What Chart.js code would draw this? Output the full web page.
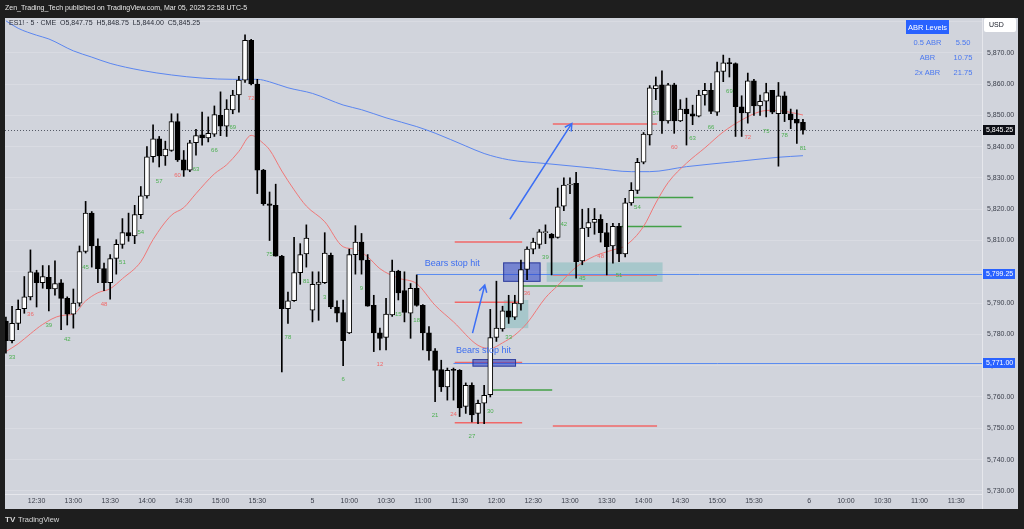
<!DOCTYPE html>
<html>
<head>
<meta charset="utf-8">
<script src="https://cdn.jsdelivr.net/npm/chart.js@4.4.1/dist/chart.umd.min.js"></script>
<style>
html, body { margin: 0; padding: 0; background: #1e1e1e; overflow: hidden; }
canvas { display: block; }
</style>
</head>
<body>
<canvas id="chart" width="1024" height="529"></canvas>
<script>
// ES1! 5 min, bar index 0 = Mar 4 12:30, index 45 = Mar 5 09:30
const firstBar = -5;

const opens = [
    5784.25, 5778, 5783.5, 5788.25, 5792,
    5799.75, 5796.5, 5798.25, 5794.5, 5796.5, 5791.5, 5786.5, 5790, 5806.5, 5818.75,
    5808.25, 5801, 5796.5, 5804.25, 5808.75, 5812.5, 5811.5, 5818.25, 5824.25, 5836.75,
    5842.5, 5837, 5838.75, 5848, 5835.75, 5832.5, 5841.25, 5843.75, 5842.75, 5844,
    5850, 5846.5, 5851.75, 5856.5, 5861.25, 5874, 5860, 5832.5, 5821.75, 5821.25,
    5805, 5788.25, 5790.75, 5799.75, 5805.75, 5787.75, 5796, 5796.5, 5805.25, 5788.75,
    5787, 5780.5, 5805.5, 5809.5, 5803.75, 5789.25, 5780.5, 5779, 5786.25, 5800.25,
    5794, 5786.75, 5794.75, 5789.25, 5780.5, 5774.75, 5768.75, 5763.25, 5768.75, 5768.5,
    5757, 5763.75, 5754.75, 5758, 5760.75, 5779, 5781.75, 5787.5, 5785.5, 5789.75,
    5800.75, 5807.25, 5808.75, 5812.5, 5812, 5811, 5821, 5827.75, 5828.25, 5803.5,
    5814, 5815.75, 5816.75, 5812.5, 5808.25, 5814.5, 5805.75, 5822, 5826, 5835,
    5843.75, 5858.5, 5859.75, 5848.25, 5859.75, 5848.25, 5852, 5850.5, 5849.75, 5856.5,
    5858, 5851, 5864, 5866.75, 5866.5, 5852.75, 5850.75, 5861, 5853, 5854.5,
    5858, 5850.5, 5856.25, 5850.5, 5848.75, 5847.75
];
const highs = [
    5785.5, 5789, 5791, 5798.5, 5807,
    5800.5, 5802, 5802, 5803.5, 5797.5, 5792, 5794.5, 5808.25, 5822.5, 5819.25,
    5810.5, 5802.75, 5805.5, 5810.25, 5817, 5818.75, 5821.25, 5827.25, 5840, 5847,
    5843.25, 5841.75, 5850.5, 5850.5, 5838.75, 5842, 5845.5, 5851, 5849.5, 5853,
    5857.5, 5855, 5858, 5862.5, 5875.75, 5874.25, 5861.5, 5832.75, 5825.5, 5828,
    5805.25, 5793.5, 5811, 5809, 5815, 5800, 5800, 5812.5, 5806, 5790.75,
    5791, 5807.25, 5814.75, 5812.25, 5805.5, 5792.5, 5782, 5791.5, 5803.75, 5800.5,
    5800, 5796.25, 5799, 5789.5, 5782.5, 5775.5, 5771.75, 5769.25, 5769.25, 5768.75,
    5764.5, 5764.5, 5759, 5763.75, 5788, 5797, 5789, 5792.5, 5792.5, 5803.75,
    5808, 5810.75, 5813.5, 5815, 5812.25, 5826.75, 5830, 5830, 5831.75, 5820,
    5820.25, 5820.25, 5818.25, 5815.5, 5815.5, 5815.5, 5823.5, 5828.5, 5836.25, 5844.5,
    5859.5, 5862.25, 5864.25, 5860.25, 5860.25, 5855, 5855.5, 5853.25, 5858, 5860.25,
    5860.25, 5867, 5869.25, 5868.25, 5866.75, 5856.25, 5863.5, 5861.5, 5856.5, 5860.25,
    5858, 5860.5, 5857.5, 5852, 5851.75, 5848.75
];
const lows = [
    5774, 5777.25, 5781.5, 5786.75, 5791,
    5788.75, 5794.75, 5787.5, 5792.5, 5781.5, 5783, 5782, 5789, 5806, 5801.5,
    5796.5, 5794, 5791.25, 5799.25, 5807.5, 5809.75, 5809, 5817, 5823.5, 5835,
    5833.5, 5834, 5838.5, 5835.25, 5830.5, 5832, 5837.25, 5840.5, 5841.5, 5843.25,
    5843.5, 5843.25, 5850.5, 5851, 5860.5, 5859.75, 5825, 5821.25, 5810, 5805,
    5768, 5783.5, 5790.5, 5796, 5801.5, 5784, 5784.5, 5796.25, 5788.25, 5784,
    5770, 5780.25, 5799.25, 5799.25, 5789, 5774.5, 5775, 5775, 5785.75, 5791,
    5784, 5778.75, 5789, 5775, 5771.75, 5758.5, 5761.75, 5759, 5759, 5753.75,
    5754.75, 5752, 5751.5, 5751.5, 5760, 5777.75, 5781, 5783.5, 5784.75, 5787.75,
    5797.5, 5805.75, 5807.5, 5809, 5799, 5810.75, 5819.5, 5825, 5798, 5802.25,
    5811.25, 5812, 5809.5, 5799, 5802.75, 5803.25, 5804.75, 5821.25, 5825, 5834.5,
    5840.5, 5855, 5844.25, 5847.5, 5844.25, 5848, 5840.5, 5847, 5849.5, 5853.25,
    5850.5, 5850, 5860.75, 5862.25, 5843.25, 5843.25, 5847.5, 5850, 5850, 5849.5,
    5850.5, 5833.75, 5848, 5845.75, 5841, 5844
];
const closes = [
    5778, 5783.5, 5788, 5792, 5800,
    5796.5, 5798.5, 5794.5, 5796.25, 5791.5, 5786.5, 5790, 5806.5, 5818.75, 5808.25,
    5801, 5796.5, 5804.25, 5808.75, 5812.5, 5811.5, 5818.25, 5824.25, 5836.75, 5842.5,
    5837, 5839.25, 5848, 5835.75, 5832.5, 5841.25, 5843.5, 5842.75, 5844.25, 5850.25,
    5846.5, 5852, 5856.5, 5861.25, 5874, 5860, 5832.5, 5821.75, 5821.25, 5805,
    5788.25, 5790.75, 5799.75, 5805.5, 5810.75, 5796, 5796.75, 5806, 5788.75, 5786.75,
    5778, 5805.5, 5809.5, 5803.75, 5789, 5780.5, 5778.75, 5786.5, 5800.25, 5793.25,
    5787, 5794.75, 5789.25, 5780.5, 5774.75, 5768.5, 5763.25, 5768.5, 5768.5, 5756.5,
    5763.75, 5754.25, 5758, 5760.5, 5779, 5782, 5787.5, 5785.5, 5790, 5800.75,
    5807.25, 5809.5, 5812.75, 5812.75, 5810.75, 5820.75, 5827.75, 5828, 5803.25, 5814,
    5815.75, 5816.75, 5812.5, 5808, 5814.5, 5805.75, 5822, 5826, 5835, 5844,
    5858.75, 5859.5, 5848.25, 5859.75, 5848.25, 5852, 5850.5, 5849.75, 5856.5, 5858,
    5851.25, 5864, 5866.75, 5866.5, 5852.75, 5850.75, 5861, 5853, 5854.5, 5857.25,
    5851, 5856.25, 5850.5, 5848.5, 5847.5, 5845.25
];

// session first bars (bar count 1)
const sessionStarts = [-36, 45];

// fast EMA (red) and slow MA (blue), read at these bars
const emaBars = [-5, -3, -1, 1, 4, 6, 8, 10, 12, 14, 17, 19, 22, 24, 26, 29, 31, 33, 35, 37, 38, 40, 42, 44,
    47, 50, 52, 54, 56, 59, 62, 65, 68, 72, 74, 76, 78, 80, 83, 85, 88, 91, 94, 96, 99, 101, 103, 106,
    109, 112, 115, 118, 120, 122, 125];
const emaVals = [5774.5, 5777, 5780.2, 5783.2, 5786, 5786.5, 5790.7, 5793.3, 5794.6, 5797.8, 5803.2, 5810.3,
    5818.1, 5820.5, 5825, 5831.3, 5834.2, 5838.5, 5843.6, 5841, 5839, 5832.2, 5826.2, 5821,
    5816, 5808, 5807.2, 5804.8, 5801, 5798, 5796.2, 5789.3, 5784, 5776.5, 5775.5, 5777.3, 5779.8, 5783.6,
    5791.7, 5795.6, 5801.5, 5805, 5807, 5808.3, 5814.5, 5822, 5828.5, 5834.7, 5839.6, 5844.7, 5848.5,
    5851.2, 5851.6, 5851.3, 5850.1];
const smaBars = [-5, -3, 0, 2, 6, 9, 12, 17, 22, 27, 32, 36, 38, 41, 45, 50, 53, 57, 62, 65, 70, 73, 77,
    83, 91, 97, 100, 106, 114, 121, 125];
const smaVals = [5880.2, 5877.8, 5875.6, 5874.4, 5870.6, 5868.6, 5866.6, 5864.4, 5862.9, 5861.9, 5861.5,
    5861.5, 5860.7, 5858.8, 5857, 5853.3, 5851.8, 5849.2, 5846.4, 5844.3, 5840.2, 5837.8, 5835.8,
    5834.6, 5833.1, 5832, 5832, 5833.6, 5835.2, 5836.6, 5837.1];

// time axis
const tickBars = [0, 6, 12, 18, 24, 30, 36, 45, 51, 57, 63, 69, 75, 81, 87, 93, 99, 105, 111, 117, 126, 132, 138, 144, 150];
const tickText = ['12:30', '13:00', '13:30', '14:00', '14:30', '15:00', '15:30', '5', '10:00', '10:30', '11:00', '11:30',
    '12:00', '12:30', '13:00', '13:30', '14:00', '14:30', '15:00', '15:30', '6', '10:00', '10:30', '11:00', '11:30'];
const priceTicks = [5730, 5740, 5750, 5760, 5770, 5780, 5790, 5800, 5810, 5820, 5830, 5840, 5850, 5860, 5870, 5880];

// drawings: [fromBar, toBar, price]
const redLevels = [[68.2, 79.2, 5809.5], [68.2, 79.2, 5790.25], [68.2, 79.2, 5771], [68.2, 79.2, 5751.75],
    [84.2, 101.2, 5847.25], [84.2, 101.2, 5799], [84.2, 101.2, 5750.75]];
const greenLevels = [[74.4, 84.1, 5762.25], [79.3, 89.1, 5795.5], [95.4, 105.2, 5814.5], [97.3, 107.1, 5823.75]];
const stopLines = [[62, 5799.25], [68, 5771.0]];
// [fromBar, toBar, low, high]
const stopBoxes = [[71.1, 78.2, 5769.7, 5772.1], [76.1, 82.2, 5796.8, 5803]];
const tealBoxes = [[76.2, 80.2, 5782, 5791], [83.2, 102.1, 5796.8, 5803]];
// arrows [fromBar, fromPrice, toBar, toPrice]
const arrows = [[71.1, 5780.4, 73.1, 5795.8], [77.2, 5816.8, 87.3, 5847.4]];
const notes = [[63.3, 5802.5, 'Bears stop hit'], [68.4, 5775, 'Bears stop hit']];

const abrNames = ['0.5 ABR', 'ABR', '2x ABR'];
const abrValues = ['5.50', '10.75', '21.75'];
const lastPrice = 5845.25;

const FONT = "'Liberation Sans', Arial, sans-serif";

function fmt(v) {
    return v.toLocaleString('en-US', { minimumFractionDigits: 2, maximumFractionDigits: 2 });
}

const wickData = lows.map((l, k) => ({ x: firstBar + k, y: [l, highs[k]] }));
const bodyData = opens.map((o, k) => ({ x: firstBar + k, y: [o, closes[k]] }));
const bodyColors = opens.map((o, k) => closes[k] >= o ? '#ffffff' : '#000000');

const overlay = {
    id: 'overlay',
    beforeDraw(chart) {
        const { ctx, width, height } = chart;
        ctx.save();
        ctx.fillStyle = '#1e1e1e';
        ctx.fillRect(0, 0, width, height);
        ctx.fillStyle = '#d1d4dc';
        ctx.fillRect(5, 18, 1013, 491);
        ctx.restore();
    },
    beforeDatasetsDraw(chart) {
        const { ctx, chartArea: a, scales: { x, y } } = chart;
        ctx.save();
        ctx.beginPath();
        ctx.rect(a.left, a.top, a.right - a.left, a.bottom - a.top);
        ctx.clip();

        tealBoxes.forEach(b => {
            const x1 = x.getPixelForValue(b[0]), x2 = x.getPixelForValue(b[1]);
            const y1 = y.getPixelForValue(b[3]), y2 = y.getPixelForValue(b[2]);
            ctx.fillStyle = 'rgba(0,150,136,0.2)';
            ctx.fillRect(x1, y1, x2 - x1, y2 - y1);
        });

        ctx.lineWidth = 1.5;
        ctx.strokeStyle = '#f06868';
        redLevels.forEach(l => {
            const yy = y.getPixelForValue(l[2]);
            ctx.beginPath();
            ctx.moveTo(x.getPixelForValue(l[0]), yy);
            ctx.lineTo(x.getPixelForValue(l[1]), yy);
            ctx.stroke();
        });
        ctx.strokeStyle = '#43a047';
        greenLevels.forEach(l => {
            const yy = y.getPixelForValue(l[2]);
            ctx.beginPath();
            ctx.moveTo(x.getPixelForValue(l[0]), yy);
            ctx.lineTo(x.getPixelForValue(l[1]), yy);
            ctx.stroke();
        });

        ctx.lineWidth = 1;
        ctx.strokeStyle = '#5b8cf0';
        stopLines.forEach(l => {
            const yy = Math.round(y.getPixelForValue(l[1])) + 0.5;
            ctx.beginPath();
            ctx.moveTo(x.getPixelForValue(l[0]), yy);
            ctx.lineTo(a.right, yy);
            ctx.stroke();
        });

        stopBoxes.forEach(b => {
            const x1 = x.getPixelForValue(b[0]), x2 = x.getPixelForValue(b[1]);
            const y1 = y.getPixelForValue(b[3]), y2 = y.getPixelForValue(b[2]);
            ctx.fillStyle = 'rgba(41,65,200,0.55)';
            ctx.fillRect(x1, y1, x2 - x1, y2 - y1);
            ctx.strokeStyle = 'rgba(40,53,147,0.9)';
            ctx.strokeRect(x1 + 0.5, y1 + 0.5, x2 - x1 - 1, y2 - y1 - 1);
        });

        // last price dotted line
        const ly = Math.round(y.getPixelForValue(lastPrice)) + 0.5;
        ctx.strokeStyle = '#555a66';
        ctx.setLineDash([1, 2]);
        ctx.beginPath();
        ctx.moveTo(a.left, ly);
        ctx.lineTo(a.right, ly);
        ctx.stroke();
        ctx.restore();
    },
    afterDatasetsDraw(chart) {
        const { ctx, chartArea: a, scales: { x, y } } = chart;
        ctx.save();
        ctx.beginPath();
        ctx.rect(a.left, a.top, a.right - a.left, a.bottom - a.top);
        ctx.clip();

        // bar counts every third bar
        ctx.font = '6px ' + FONT;
        ctx.textAlign = 'center';
        ctx.textBaseline = 'middle';
        lows.forEach((l, k) => {
            const bar = firstBar + k;
            const start = bar >= sessionStarts[1] ? sessionStarts[1] : sessionStarts[0];
            const n = bar - start + 1;
            if (n % 3 !== 0) return;
            ctx.fillStyle = n % 12 === 0 ? '#f06868' : '#4caf50';
            ctx.fillText(String(n), x.getPixelForValue(bar), y.getPixelForValue(l) + 14);
        });

        // arrows
        ctx.strokeStyle = '#3b6ef5';
        ctx.lineWidth = 1.5;
        arrows.forEach(ar => {
            const x1 = x.getPixelForValue(ar[0]), y1 = y.getPixelForValue(ar[1]);
            const x2 = x.getPixelForValue(ar[2]), y2 = y.getPixelForValue(ar[3]);
            const ang = Math.atan2(y2 - y1, x2 - x1);
            ctx.beginPath();
            ctx.moveTo(x1, y1);
            ctx.lineTo(x2, y2);
            ctx.moveTo(x2 - 8 * Math.cos(ang - 0.5), y2 - 8 * Math.sin(ang - 0.5));
            ctx.lineTo(x2, y2);
            ctx.lineTo(x2 - 8 * Math.cos(ang + 0.5), y2 - 8 * Math.sin(ang + 0.5));
            ctx.stroke();
        });

        ctx.font = '9px ' + FONT;
        ctx.textAlign = 'left';
        ctx.fillStyle = '#3d6ef0';
        notes.forEach(n => {
            ctx.fillText(n[2], x.getPixelForValue(n[0]), y.getPixelForValue(n[1]));
        });
        ctx.restore();

        // axis separators
        ctx.save();
        ctx.strokeStyle = 'rgba(255,255,255,0.45)';
        ctx.lineWidth = 1;
        ctx.beginPath();
        ctx.moveTo(a.right + 0.5, 18);
        ctx.lineTo(a.right + 0.5, 509);
        ctx.moveTo(5, a.bottom + 0.5);
        ctx.lineTo(a.right, a.bottom + 0.5);
        ctx.stroke();

        // price labels on the axis
        ctx.font = '7px ' + FONT;
        ctx.textBaseline = 'middle';
        ctx.textAlign = 'left';
        const tag = (price, bg) => {
            const yy = Math.round(y.getPixelForValue(price));
            ctx.fillStyle = bg;
            ctx.fillRect(983, yy - 5, 32, 10);
            ctx.fillStyle = '#ffffff';
            ctx.fillText(fmt(price), 986, yy + 0.5);
        };
        stopLines.forEach(l => tag(l[1], '#2962ff'));
        tag(lastPrice, '#0c0e15');

        // currency box
        ctx.fillStyle = '#ffffff';
        ctx.beginPath();
        ctx.roundRect(984, 18, 32, 14, 2);
        ctx.fill();
        ctx.fillStyle = '#131722';
        ctx.fillText('USD', 989, 25.5);

        // ABR table
        ctx.fillStyle = '#2962ff';
        ctx.fillRect(906, 20, 43, 14);
        ctx.fillStyle = '#ffffff';
        ctx.font = '7.5px ' + FONT;
        ctx.textAlign = 'center';
        ctx.fillText('ABR Levels', 927.5, 27.5);
        ctx.fillStyle = '#4a78f0';
        abrNames.forEach((nm, k) => {
            ctx.fillText(nm, 927.5, 42.5 + k * 15);
            ctx.fillText(abrValues[k], 963, 42.5 + k * 15);
        });

        // symbol legend
        ctx.textAlign = 'left';
        ctx.font = '7px ' + FONT;
        ctx.fillStyle = '#2a2e39';
        ctx.fillText('ES1! · 5 · CME  O5,847.75  H5,848.75  L5,844.00  C5,845.25', 9, 23.5);

        // header and footer
        ctx.fillStyle = '#e8e8e8';
        ctx.fillText('Zen_Trading_Tech published on TradingView.com, Mar 05, 2025 22:58 UTC-5', 5, 8.5);
        ctx.font = 'bold 8px ' + FONT;
        ctx.fillStyle = '#d8d8d8';
        ctx.fillText('TV', 5, 519.5);
        ctx.font = '7.5px ' + FONT;
        ctx.fillText('TradingView', 18, 519.5);
        ctx.restore();
    }
};

new Chart(document.getElementById('chart'), {
    type: 'bar',
    data: {
        datasets: [
            {
                type: 'bar',
                data: bodyData,
                backgroundColor: bodyColors,
                borderColor: '#000000',
                borderWidth: 1,
                borderSkipped: false,
                minBarLength: 1,
                barPercentage: 1,
                categoryPercentage: 1,
                maxBarThickness: 5,
                grouped: false,
                order: 1
            },
            {
                type: 'bar',
                data: wickData,
                backgroundColor: '#000000',
                borderWidth: 0,
                barPercentage: 1,
                categoryPercentage: 1,
                maxBarThickness: 1,
                grouped: false,
                order: 2
            },
            {
                type: 'line',
                data: emaBars.map((b, k) => ({ x: b, y: emaVals[k] })),
                borderColor: '#f07878',
                borderWidth: 1,
                pointRadius: 0,
                cubicInterpolationMode: 'monotone',
                order: 3
            },
            {
                type: 'line',
                data: smaBars.map((b, k) => ({ x: b, y: smaVals[k] })),
                borderColor: '#5b86f0',
                borderWidth: 1,
                pointRadius: 0,
                cubicInterpolationMode: 'monotone',
                order: 4
            }
        ]
    },
    options: {
        responsive: false,
        animation: false,
        layout: { padding: { left: 5, right: 6, top: 18, bottom: 20 } },
        plugins: { legend: { display: false }, tooltip: { enabled: false } },
        scales: {
            x: {
                type: 'linear',
                min: -5.15,
                max: 154.2,
                offset: false,
                grid: { display: false, drawTicks: false },
                border: { display: false },
                afterBuildTicks: s => { s.ticks = tickBars.map(v => ({ value: v })); },
                afterFit: s => { s.height = 15; },
                ticks: {
                    autoSkip: false,
                    maxRotation: 0,
                    padding: 3,
                    color: '#3a3e4a',
                    font: { family: FONT, size: 7 },
                    callback: v => tickText[tickBars.indexOf(v)]
                }
            },
            y: {
                type: 'linear',
                position: 'right',
                min: 5729,
                max: 5881.1,
                grid: { color: 'rgba(255,255,255,0.18)', drawTicks: false },
                border: { display: false },
                afterBuildTicks: s => { s.ticks = priceTicks.map(v => ({ value: v })); },
                afterFit: s => { s.width = 36; },
                ticks: {
                    padding: 5,
                    color: '#3a3e4a',
                    font: { family: FONT, size: 7 },
                    callback: v => fmt(v)
                }
            }
        }
    },
    plugins: [overlay]
});
</script>
</body>
</html>
